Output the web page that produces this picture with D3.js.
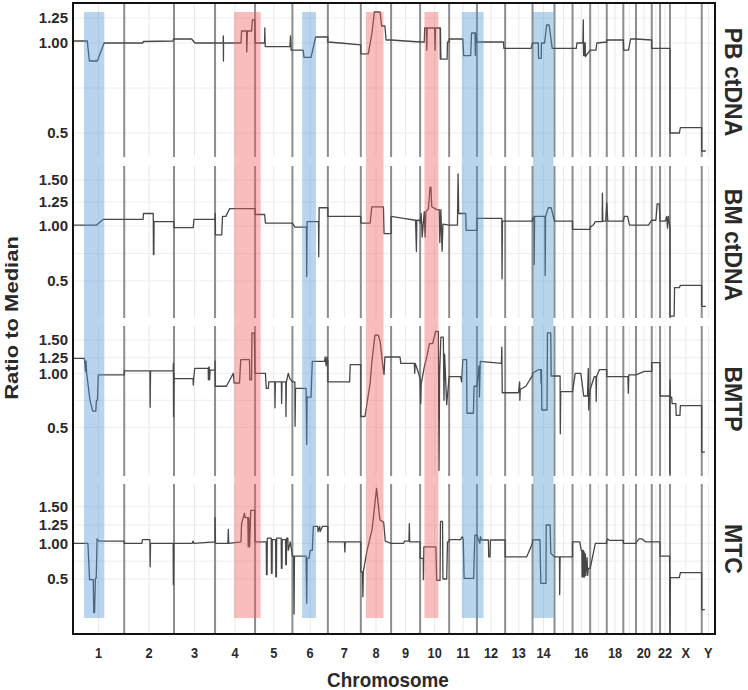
<!DOCTYPE html>
<html><head><meta charset="utf-8">
<script src="https://cdn.jsdelivr.net/npm/d3@7/dist/d3.min.js"></script>
<style>body{margin:0;background:#fff} svg{display:block}</style>
</head><body>
<svg id="chart" width="748" height="690"></svg>
<script>
// ---------------- DATA ----------------
const chromNames = ["1","2","3","4","5","6","7","8","9","10","11","12","13","14","15","16","17","18","19","20","21","22","X","Y"];
// plotted chromosome widths (Mb-equivalent bins)
const chromSizes = [247,240,198,193,180,171,159,146,140,140,134,136,132,106,87,85,80,80,61,76,40,48,153,64];
const tickLabels = ["1","2","3","4","5","6","7","8","9","10","11","12","13","14","16","18","20","22","X","Y"];
const panelNames = ["PB ctDNA","BM ctDNA","BMTP","MTC"];
const panelTicks = [[0.5,1,1.25],[0.5,1,1.25,1.5],[0.5,1,1.25,1.5],[0.5,1,1.25,1.5]];
const minorGrid = [0.75];
const highlights = [
  {from:["1",53],  to:["1",151], kind:"loss"},
  {from:["4",92],  to:["5",27],  kind:"gain"},
  {from:["6",47],  to:["6",114], kind:"loss"},
  {from:["8",25],  to:["8",109], kind:"gain"},
  {from:["10",21], to:["10",88], kind:"gain"},
  {from:["11",61], to:["12",32], kind:"loss"},
  {from:["14",2],  to:["14",101],kind:"loss"}
];

// [chromosome, position (Mb), ratio to median]
const pbCtDNA = [
["1",0,1.02],["1",69,1.02],["1",79,0.9],["1",117,0.9],["1",150,1.0],["1",247,1.0],
["2",0,1.0],["2",90,1.0],["2",92,1.015],["2",234,1.02],["2",238,1.04],
["3",0,1.04],["3",85,1.04],["3",101,1.0],["3",198,1.0],
["4",0,1.0],["4",39,1.0],["4",40,1.07],["4",40.5,0.9],["4",41,1.0],["4",125,1.0],["4",128,1.12],["4",152,1.12],["4",153,0.95],["4",156,1.12],["4",176,1.12],["4",180,1.23],["4",191,1.23],["4",193,1.0],
["5",0,1.0],["5",46,1.0],["5",47,1.15],["5",49,0.98],["5",168,0.98],["5",171,1.07],["5",174,0.96],["5",180,0.96],
["6",0,0.96],["6",52,0.96],["6",56,0.92],["6",90,0.92],["6",112,1.06],["6",171,1.06],
["7",0,1.01],["7",60,1.0],["7",159,0.99],
["8",0,0.94],["8",36,0.94],["8",54,1.1],["8",65,1.31],["8",93,1.31],["8",100,1.17],["8",116,1.17],["8",122,1.03],["8",146,1.03],
["9",0,1.03],["9",70,1.02],["9",140,1.01],
["10",0,1.01],["10",20,1.01],["10",22,1.15],["10",30,1.15],["10",32,0.96],["10",34,1.15],["10",70,1.15],["10",72,0.96],["10",74,1.15],["10",96,1.15],["10",97,0.91],["10",98,1.15],["10",100,0.91],["10",130,0.91],["10",132,1.01],["10",140,1.01],
["11",0,1.04],["11",66,1.04],["11",70,0.93],["11",104,0.93],["11",108,1.1],["11",125,1.1],["11",126,0.93],["11",128,1.1],["11",132,1.03],["11",134,1.01],
["12",0,1.01],["12",128,1.01],["12",130,0.97],["12",136,0.97],
["13",0,0.97],["13",125,0.97],["13",132,1.0],
["14",0,1.0],["14",28,1.0],["14",29,0.915],["14",42,0.915],["14",43,1.0],["14",58,1.0],["14",68,1.18],["14",80,1.18],["14",95,0.97],["14",106,0.97],
["15",0,0.97],["15",87,0.97],
["16",0,0.97],["16",18,0.97],["16",21,1.0],["16",50,1.0],["16",52,1.23],["16",53,0.93],["16",55,1.0],["16",56,0.93],["16",58,1.0],["16",59,0.93],["16",61,1.0],["16",62,0.925],["16",85,0.96],
["17",0,0.96],["17",28,0.96],["17",32,1.0],["17",80,1.01],
["18",0,1.03],["18",80,1.03],
["19",0,1.02],["19",2,0.96],["19",25,0.96],["19",35,1.04],["19",61,1.04],
["20",0,1.04],["20",76,1.03],
["21",0,0.97],["21",40,0.97],
["22",0,0.97],["22",48,0.97],
["X",0,0.5],["X",45,0.5],["X",50,0.53],["X",153,0.53],
["Y",0,0.4],["Y",20,0.4]
];

const bmCtDNA = [
["1",0,1.01],["1",114,1.01],["1",146,1.07],["1",247,1.07],
["2",0,1.07],["2",91,1.07],["2",93,1.13],["2",140,1.13],["2",141,0.74],["2",143,0.74],["2",144,1.045],["2",240,1.045],
["3",0,0.985],["3",93,0.985],["3",96,1.07],["3",198,1.07],
["4",0,1.07],["4",1,1.13],["4",2,0.92],["4",32,0.92],["4",36,1.1],["4",52,1.1],["4",70,1.18],["4",193,1.18],
["5",0,1.12],["5",46,1.12],["5",50,1.03],["5",180,1.03],
["6",0,1.03],["6",12,0.99],["6",68,0.99],["6",69,0.54],["6",71,1.045],["6",126,1.045],["6",127,0.72],["6",129,1.19],["6",171,1.19],
["7",0,1.1],["7",159,1.1],
["8",0,1.03],["8",45,1.03],["8",53,1.2],["8",109,1.2],["8",112,0.93],["8",146,0.93],
["9",0,1.1],["9",60,1.08],["9",118,1.06],["9",122,0.77],["9",124,1.06],["9",140,1.06],
["10",0,1.03],["10",5,1.13],["10",10,0.9],["10",20,1.15],["10",24,0.9],["10",28,1.15],["10",40,1.18],["10",48,1.42],["10",52,1.42],["10",56,1.2],["10",80,1.17],["10",92,1.17],["10",95,0.85],["10",100,1.17],["10",106,0.77],["10",110,1.02],["10",140,1.01],
["11",0,1.01],["11",40,1.01],["11",43,1.57],["11",46,1.13],["11",80,1.13],["11",82,0.96],["11",134,0.96],
["12",0,1.08],["12",120,1.08],["12",121,0.52],["12",123,1.05],["12",136,1.05],
["13",0,1.05],["13",132,1.05],
["14",0,1.08],["14",7,1.1],["14",8,0.65],["14",10,1.1],["14",60,1.1],["14",61,0.55],["14",63,1.1],["14",76,1.19],["14",90,1.19],["14",106,1.05],
["15",0,1.05],["15",87,1.05],
["16",0,0.97],["16",85,0.97],
["17",0,0.99],["17",15,1.01],["17",25,1.045],["17",58,1.045],["17",59,1.35],["17",61,1.05],["17",75,1.05],["17",80,1.24],
["18",0,1.24],["18",5,1.05],["18",80,1.05],
["19",0,1.05],["19",5,1.1],["19",20,1.1],["19",30,1.01],["19",61,1.01],
["20",0,1.01],["20",60,1.01],["20",76,1.06],
["21",0,1.06],["21",20,1.06],["21",26,1.23],["21",36,1.23],["21",40,1.05],
["22",0,1.05],["22",25,1.05],["22",32,1.1],["22",36,0.98],["22",40,1.1],["22",48,0.98],
["X",0,0.18],["X",20,0.18],["X",22,0.44],["X",45,0.44],["X",50,0.46],["X",153,0.46],
["Y",0,0.27],["Y",20,0.27]
];

const bmtp = [
["1",0,1.24],["1",55,1.24],["1",60,1.03],["1",63,1.2],["1",66,1.0],["1",82,0.75],["1",95,0.65],["1",110,0.65],["1",113,0.75],["1",118,0.75],["1",122,0.985],["1",247,0.985],
["2",0,1.04],["2",124,1.04],["2",125,0.685],["2",127,1.04],["2",236,1.04],["2",237,1.16],["2",238,0.6],["2",240,1.0],
["3",0,0.95],["3",92,0.95],["3",93,0.89],["3",95,0.95],["3",100,1.08],["3",165,1.08],["3",166,0.94],["3",168,1.1],["3",170,1.1],["3",172,0.94],["3",174,1.05],["3",198,1.05],
["4",0,1.2],["4",1,0.88],["4",55,0.88],["4",88,1.0],["4",92,0.91],["4",118,0.91],["4",124,1.22],["4",166,1.22],["4",168,0.94],["4",176,0.94],["4",178,1.6],["4",189,1.6],["4",193,1.0],
["5",0,1.0],["5",50,1.0],["5",54,0.86],["5",64,0.86],["5",66,0.92],["5",95,0.92],["5",96,0.68],["5",98,0.92],["5",127,0.92],["5",128,0.72],["5",130,0.92],["5",148,0.92],["5",149,0.6],["5",151,0.92],["5",160,1.0],["5",168,0.95],["5",180,0.92],
["6",0,0.92],["6",12,0.92],["6",13,0.51],["6",15,0.86],["6",66,0.86],["6",69,0.34],["6",71,0.78],["6",90,0.78],["6",96,1.19],["6",155,1.19],["6",158,1.26],["6",163,1.12],["6",167,1.26],["6",171,1.19],
["7",0,0.92],["7",105,0.92],["7",108,1.14],["7",159,1.14],
["8",0,0.6],["8",20,0.6],["8",45,0.91],["8",54,1.2],["8",68,1.57],["8",84,1.57],["8",93,1.48],["8",107,1.1],["8",112,0.99],["8",116,1.26],["8",146,1.26],
["9",0,1.26],["9",43,1.26],["9",47,1.16],["9",112,1.16],["9",114,1.0],["9",116,1.16],["9",130,1.03],["9",140,0.95],
["10",0,0.95],["10",3,0.72],["10",5,0.9],["10",20,1.1],["10",35,1.3],["10",45,1.45],["10",60,1.45],["10",75,1.62],["10",88,1.62],["10",91,0.1],["10",94,1.0],["10",100,1.54],["10",112,1.54],["10",115,0.75],["10",118,1.3],["10",128,0.71],["10",140,0.97],
["11",0,0.97],["11",55,0.97],["11",60,0.92],["11",66,1.22],["11",84,1.22],["11",86,0.63],["11",117,0.63],["11",120,0.88],["11",134,0.88],
["12",0,0.88],["12",10,1.12],["12",12,0.78],["12",16,1.19],["12",118,1.16],["12",120,1.4],["12",122,0.82],["12",136,0.82],
["13",0,0.82],["13",64,0.82],["13",70,0.92],["13",71,0.75],["13",73,0.85],["13",100,0.88],["13",132,0.98],
["14",0,1.0],["14",30,1.06],["14",40,1.06],["14",41,0.91],["14",43,1.06],["14",45,0.66],["14",70,0.66],["14",72,1.6],["14",88,1.6],["14",90,0.975],["14",106,0.975],
["15",0,0.975],["15",27,0.975],["15",28,0.44],["15",30,0.83],["15",87,0.83],
["16",0,0.83],["16",13,1.0],["16",40,1.0],["16",54,0.79],["16",72,0.79],["16",76,1.08],["16",78,0.66],["16",85,0.85],
["17",0,0.85],["17",20,0.97],["17",28,0.97],["17",29,0.74],["17",31,0.97],["17",45,1.06],["17",80,1.06],
["18",0,0.97],["18",80,0.97],
["19",0,0.97],["19",22,0.97],["19",24,0.815],["19",26,0.985],["19",61,0.985],
["20",0,0.985],["20",40,1.03],["20",76,1.03],
["21",0,1.17],["21",40,1.17],
["22",0,0.79],["22",46,0.79],["22",47,0.07],["22",48,0.94],
["X",0,0.94],["X",2,0.78],["X",8,0.78],["X",10,0.72],["X",28,0.72],["X",30,0.61],["X",48,0.61],["X",50,0.7],["X",153,0.7],
["Y",0,0.27],["Y",15,0.27]
];

const mtc = [
["1",0,1.0],["1",72,1.0],["1",80,0.49],["1",98,0.49],["1",100,0.03],["1",104,0.03],["1",108,0.51],["1",112,0.51],["1",116,1.06],["1",125,1.03],["1",247,1.03],
["2",0,1.0],["2",85,1.0],["2",88,1.05],["2",124,1.05],["2",125,0.67],["2",127,1.0],["2",236,1.0],["2",237,0.42],["2",239,1.0],
["3",0,1.0],["3",88,1.0],["3",92,1.03],["3",96,1.0],["3",198,1.02],
["4",0,1.35],["4",2,1.0],["4",62,1.0],["4",64,1.19],["4",66,1.0],["4",125,1.02],["4",128,1.27],["4",136,1.35],["4",142,1.41],["4",145,1.35],["4",158,1.35],["4",160,0.95],["4",163,1.35],["4",167,0.95],["4",172,1.45],["4",191,1.45],["4",193,1.02],
["5",0,1.02],["5",54,1.02],["5",55,0.56],["5",58,0.56],["5",59,1.07],["5",78,1.07],["5",79,0.58],["5",82,0.58],["5",83,1.05],["5",99,1.05],["5",100,0.53],["5",103,0.53],["5",104,1.07],["5",126,1.07],["5",127,0.65],["5",130,0.65],["5",131,1.05],["5",147,1.05],["5",148,0.7],["5",151,0.7],["5",152,1.07],["5",158,1.07],["5",160,0.9],["5",170,1.02],["5",180,0.82],
["6",0,0.82],["6",6,0.82],["6",8,0.01],["6",10,0.82],["6",66,0.82],["6",69,0.16],["6",71,0.79],["6",80,0.79],["6",86,0.9],["6",96,0.9],["6",101,1.23],["6",122,1.23],["6",124,1.16],["6",132,1.23],["6",134,1.16],["6",145,1.23],["6",171,1.23],
["7",0,1.02],["7",80,1.02],["7",82,0.88],["7",84,1.02],["7",159,1.02],
["8",0,0.6],["8",8,0.6],["8",10,0.25],["8",12,0.6],["8",30,0.9],["8",54,1.18],["8",68,1.55],["8",76,1.75],["8",92,1.32],["8",110,1.29],["8",118,1.03],["8",146,1.0],
["9",0,1.0],["9",60,1.0],["9",65,1.03],["9",86,1.03],["9",88,1.27],["9",90,1.02],["9",140,1.02],
["10",0,0.79],["10",15,0.79],["10",16,0.49],["10",18,0.95],["10",76,0.95],["10",80,0.48],["10",96,0.48],["10",98,1.3],["10",108,1.3],["10",110,0.5],["10",128,0.5],["10",132,1.02],["10",140,1.02],
["11",0,1.05],["11",55,1.05],["11",64,1.09],["11",68,1.05],["11",72,0.51],["11",118,0.51],["11",124,1.11],["11",134,1.11],
["12",0,1.11],["12",14,1.0],["12",17,1.09],["12",22,1.045],["12",55,1.045],["12",57,0.81],["12",63,0.81],["12",65,1.045],["12",136,1.045],
["13",0,0.81],["13",104,0.81],["13",132,1.0],
["14",0,1.045],["14",36,1.05],["14",40,0.44],["14",65,0.44],["14",66,1.25],["14",85,1.25],["14",88,0.86],["14",106,0.81],
["15",0,0.81],["15",24,0.81],["15",25,0.28],["15",27,0.81],["15",87,0.81],
["16",0,1.02],["16",35,1.02],["16",42,0.9],["16",45,0.9],["16",46,0.53],["16",48,0.9],["16",50,0.53],["16",52,0.9],["16",54,0.53],["16",56,0.88],["16",58,0.53],["16",62,0.85],["16",64,0.55],["16",70,0.8],["16",73,0.55],["16",76,0.65],["16",85,0.65],
["17",0,0.65],["17",25,1.0],["17",80,1.0],
["18",0,1.04],["18",5,1.06],["18",12,1.04],["18",80,1.04],
["19",0,1.0],["19",61,1.0],
["20",0,1.01],["20",15,1.06],["20",30,1.06],["20",45,1.02],["20",76,1.02],
["21",0,1.02],["21",40,1.02],
["22",0,0.82],["22",46,0.82],["22",48,-0.25],
["X",0,-0.25],["X",2,0.52],["X",45,0.52],["X",50,0.59],["X",153,0.59],
["Y",0,0.07],["Y",15,0.07]
];

const panelData = [pbCtDNA, bmCtDNA, bmtp, mtc];

// ---------------- LAYOUT ----------------
const plot = {left:73, right:715, top:3, bottom:634};
const panelLayout = [
  {top:3,   bottom:157, anchors:[133,43,18],             labelY:82},
  {top:166, bottom:318, anchors:[281,226,202,180],       labelY:245},
  {top:326, bottom:476, anchors:[427.3,373.3,357.7,340], labelY:399},
  {top:484, bottom:634, anchors:[579,543.3,525,506.7],   labelY:549}
];
const band = {top:12, bottom:618};
const font = "'Liberation Sans', Arial, Helvetica, sans-serif";
const textColor = "#2a2a2a";

const svg = d3.select("#chart");
const offsets = [0, ...d3.cumsum(chromSizes)];
const total = offsets[offsets.length-1];
const chromIndex = new Map(chromNames.map((c,i)=>[c,i]));
const x = d3.scaleLinear().domain([0,total]).range([plot.left, plot.right]);
const gpos = (c, mb) => { const i = chromIndex.get(c); return offsets[i] + Math.min(mb, chromSizes[i] + 60); };
const centers = chromNames.map((c,i)=> offsets[i] + chromSizes[i]/2);

const gGrid = svg.append("g");
const gBound = svg.append("g");
const gData = svg.append("g");
const gBand = svg.append("g");
const gAxes = svg.append("g");

panelLayout.forEach((pl, pi) => {
  const ticks = panelTicks[pi];
  const y = d3.scaleLinear().domain(ticks).range(pl.anchors);
  gGrid.selectAll(null).data(centers).join("line")
    .attr("x1", d=>x(d)).attr("x2", d=>x(d))
    .attr("y1", pl.top).attr("y2", pl.bottom)
    .attr("stroke", "#e9e9e9").attr("stroke-width", 1);
  gGrid.selectAll(null).data(ticks.concat(minorGrid)).join("line")
    .attr("x1", plot.left).attr("x2", plot.right)
    .attr("y1", d=>y(d)).attr("y2", d=>y(d))
    .attr("stroke", "#eeeeee").attr("stroke-width", 1);
  gBound.selectAll(null).data(offsets.slice(1, -1)).join("line")
    .attr("x1", d=>x(d)).attr("x2", d=>x(d))
    .attr("y1", pl.top).attr("y2", pl.bottom)
    .attr("stroke", "#8d8d8d").attr("stroke-width", 2);
  const line = d3.line().x(d=>x(gpos(d[0],d[1]))).y(d=>y(d[2]));
  gData.append("path").datum(panelData[pi]).attr("d", line)
    .attr("fill","none").attr("stroke","#474747").attr("stroke-width",1.3)
    .attr("stroke-linejoin","round");
  gAxes.selectAll(null).data(ticks).join("text")
    .attr("x", 68).attr("y", d=>y(d)).attr("dy","0.35em")
    .attr("text-anchor","end").attr("font-family",font).attr("font-weight","bold")
    .attr("font-size",15).attr("fill",textColor)
    .text(d => d===0.5 ? "0.5" : d3.format(".2f")(d));
  gAxes.append("text")
    .attr("transform", `translate(725,${pl.labelY}) rotate(90)`)
    .attr("text-anchor","middle").attr("font-family",font).attr("font-weight","bold")
    .attr("font-size",23).attr("fill",textColor)
    .text(panelNames[pi]);
});

const bandColor = {loss:"rgb(80,150,210)", gain:"rgb(240,90,90)"};
gBand.selectAll(null).data(highlights).join("rect")
  .attr("x", d=>x(gpos(...d.from)))
  .attr("width", d=>x(gpos(...d.to)) - x(gpos(...d.from)))
  .attr("y", band.top).attr("height", band.bottom-band.top)
  .attr("fill", d=>bandColor[d.kind]).attr("fill-opacity",0.4);

gAxes.append("rect").attr("x",plot.left).attr("y",plot.top)
  .attr("width",plot.right-plot.left).attr("height",plot.bottom-plot.top)
  .attr("fill","none").attr("stroke","#111").attr("stroke-width",2);

const tickData = tickLabels.map(l => ({label:l, pos:centers[chromIndex.get(l)]}));
gAxes.selectAll(null).data(tickData).join("text")
  .attr("transform", d=>`translate(${x(d.pos)},658) scale(0.85,1)`)
  .attr("text-anchor","middle").attr("font-family",font).attr("font-weight","bold")
  .attr("font-size",15).attr("fill",textColor).text(d=>d.label);

gAxes.append("text").attr("transform","translate(388,687) scale(0.9,1)")
  .attr("text-anchor","middle").attr("font-family",font).attr("font-weight","bold")
  .attr("font-size",21).attr("fill",textColor).text("Chromosome");
gAxes.append("text").attr("transform","translate(18,318) scale(0.85,1) rotate(-90)")
  .attr("text-anchor","middle").attr("font-family",font).attr("font-weight","bold")
  .attr("font-size",22).attr("fill",textColor).text("Ratio to Median");
</script>
</body></html>
